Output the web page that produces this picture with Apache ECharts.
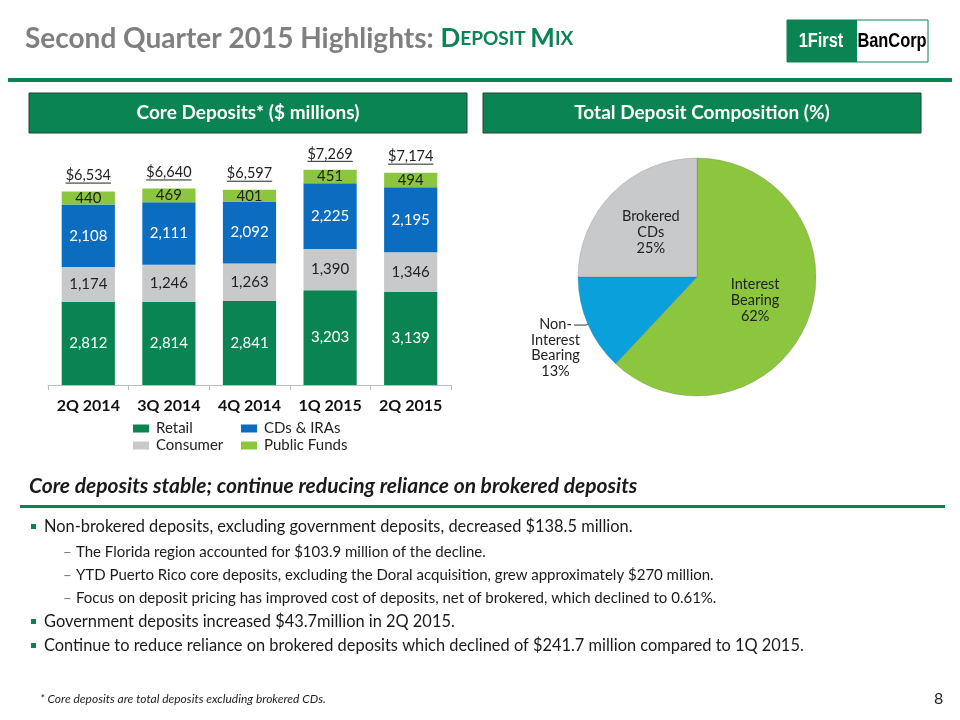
<!DOCTYPE html>
<html>
<head>
<meta charset="utf-8">
<script src="https://cdn.jsdelivr.net/npm/echarts@6/dist/echarts.min.js"></script>
<style>html,body{margin:0;padding:0;background:#fff;}#c{width:960px;height:720px;}</style>
</head>
<body>
<div id="c"></div>
<script>
const categories = ['2Q 2014', '3Q 2014', '4Q 2014', '1Q 2015', '2Q 2015'];
const retail = [2812, 2814, 2841, 3203, 3139];
const consumer = [1174, 1246, 1263, 1390, 1346];
const cdsIras = [2108, 2111, 2092, 2225, 2195];
const publicFunds = [440, 469, 401, 451, 494];
const totals = [6534, 6640, 6597, 7269, 7174];
const pieNames = ['Interest Bearing', 'Non-Interest Bearing', 'Brokered CDs'];
const pieValues = [62, 13, 25];

const FONT = 'Lato, "Open Sans", sans-serif';
const GREEN = '#0b8453';
const fmt = v => Number(v).toLocaleString('en-US');

const mctx = document.createElement('canvas').getContext('2d');
function textW(t, font) { mctx.font = font; return mctx.measureText(t).width; }

const chart = echarts.init(document.getElementById('c'), null, {renderer: 'canvas'});

function barSeries(name, data, color, labelColor) {
  return {
    name, type: 'bar', stack: 'core', data, barWidth: '66%',
    itemStyle: {color},
    label: {show: true, position: 'inside', color: labelColor, fontFamily: FONT, fontSize: 15,
      formatter: p => fmt(p.value)}
  };
}

function legendItem(name, left, top) {
  return {
    data: [name], left, top, padding: 0, itemWidth: 16, itemHeight: 8, itemGap: 8, icon: 'rect',
    selectedMode: false,
    textStyle: {fontSize: 15, color: '#222', fontFamily: FONT, padding: [0, 0, 0, 2]}
  };
}

const bullets = [
  {lvl: 0, y: 527, t: 'Non-brokered deposits, excluding government deposits, decreased $138.5 million.'},
  {lvl: 1, y: 552, t: 'The Florida region accounted for $103.9 million of the decline.'},
  {lvl: 1, y: 575, t: 'YTD Puerto Rico core deposits, excluding the Doral acquisition, grew approximately $270 million.'},
  {lvl: 1, y: 598, t: 'Focus on deposit pricing has improved cost of deposits, net of brokered, which declined to 0.61%.'},
  {lvl: 0, y: 622, t: 'Government deposits increased $43.7million in 2Q 2015.'},
  {lvl: 0, y: 646, t: 'Continue to reduce reliance on brokered deposits which declined of $241.7 million compared to 1Q 2015.'}
];

const LOGO_FONT = 'bold 20px "Liberation Sans", Arial, sans-serif';
const graphics = [
  {type: 'text', left: 25, top: 25, style: {
    text: '{g|Second Quarter 2015 Highlights: }{a|D}{b|EPOSIT }{a|M}{b|IX}',
    rich: {
      g: {fill: '#7f7f7f', font: 'bold 28px ' + FONT},
      a: {fill: GREEN, font: 'bold 26px ' + FONT},
      b: {fill: GREEN, font: 'bold 19px ' + FONT}
    }}},
  {type: 'rect', shape: {x: 8, y: 78, width: 944, height: 4}, style: {fill: GREEN}},
  // logo
  {type: 'rect', shape: {x: 787, y: 20, width: 141, height: 42}, style: {fill: '#fff', stroke: GREEN, lineWidth: 1}},
  {type: 'rect', shape: {x: 787, y: 20, width: 70, height: 42}, style: {fill: GREEN}},
  {type: 'text', x: 821, y: 41, scaleX: 0.82, style: {text: '1First', x: 0, y: 0, fill: '#fff', align: 'center', verticalAlign: 'middle', font: LOGO_FONT}},
  {type: 'text', x: 892, y: 41, scaleX: 0.82, style: {text: 'BanCorp', x: 0, y: 0, fill: '#000', align: 'center', verticalAlign: 'middle', font: LOGO_FONT}},
  // header boxes
  {type: 'rect', shape: {x: 29, y: 93, width: 438, height: 40}, style: {fill: GREEN, stroke: '#24402f', lineWidth: 1}},
  {type: 'text', x: 248, y: 113, style: {text: 'Core Deposits* ($ millions)', fill: '#fff', align: 'center', verticalAlign: 'middle', font: 'bold 19px ' + FONT}},
  {type: 'rect', shape: {x: 483, y: 93, width: 438, height: 40}, style: {fill: GREEN, stroke: '#24402f', lineWidth: 1}},
  {type: 'text', x: 702, y: 113, style: {text: 'Total Deposit Composition (%)', fill: '#fff', align: 'center', verticalAlign: 'middle', font: 'bold 19px ' + FONT}},
  // subheading
  {type: 'text', x: 29, y: 486, style: {text: 'Core deposits stable; continue reducing reliance on brokered deposits', fill: '#1a1a1a', verticalAlign: 'middle', font: 'italic bold 21px ' + FONT}},
  {type: 'rect', shape: {x: 20, y: 505, width: 925, height: 3}, style: {fill: GREEN}},
  // footnote
  {type: 'text', x: 40, y: 699, style: {text: '* Core deposits are total deposits excluding brokered CDs.', fill: '#222', verticalAlign: 'middle', font: 'italic 12px ' + FONT}},
  {type: 'text', x: 934, y: 699, style: {text: '8', fill: '#222', verticalAlign: 'middle', font: '16px ' + FONT}}
];
bullets.forEach(b => {
  if (b.lvl === 0) {
    graphics.push({type: 'rect', shape: {x: 31, y: b.y - 3, width: 5, height: 5}, style: {fill: GREEN}});
    graphics.push({type: 'text', x: 44, y: b.y, style: {text: b.t, fill: '#1a1a1a', verticalAlign: 'middle', font: '16.4px ' + FONT}});
  } else {
    graphics.push({type: 'text', x: 63, y: b.y, style: {text: '–', fill: '#777', verticalAlign: 'middle', font: '15px ' + FONT}});
    graphics.push({type: 'text', x: 76, y: b.y, style: {text: b.t, fill: '#1a1a1a', verticalAlign: 'middle', font: '15px ' + FONT}});
  }
});

const option = {
  animation: false,
  backgroundColor: '#fff',
  grid: {left: 48, top: 163, width: 403, height: 222, containLabel: false},
  xAxis: {
    type: 'category', data: categories,
    axisLine: {lineStyle: {color: '#bdbdbd'}},
    axisTick: {show: true, length: 5, lineStyle: {color: '#bdbdbd'}},
    axisLabel: {color: '#111', fontWeight: 'bold', fontSize: 16, fontFamily: FONT, margin: 13, interval: 0, hideOverlap: false}
  },
  yAxis: {type: 'value', min: 0, max: 7500, show: false, splitLine: {show: false}},
  legend: [
    legendItem('Retail', 133, 421),
    legendItem('CDs & IRAs', 241, 421),
    legendItem('Consumer', 133, 438),
    legendItem('Public Funds', 241, 438)
  ],
  series: [
    barSeries('Retail', retail, '#0b8453', '#fff'),
    barSeries('Consumer', consumer, '#c8c9cb', '#222'),
    barSeries('CDs & IRAs', cdsIras, '#0c6cc0', '#fff'),
    barSeries('Public Funds', publicFunds, '#8cc63f', '#222'),
    {
      name: 'Total', type: 'custom', data: totals.map((v, i) => [i, v]),
      encode: {x: 0, y: 1}, z: 10,
      renderItem: (params, api) => {
        const p = api.coord([api.value(0), api.value(1)]);
        const txt = '$' + fmt(api.value(1));
        const font = '14.5px ' + FONT;
        const w = textW(txt, font);
        return {type: 'group', children: [
          {type: 'text', style: {text: txt, x: p[0], y: p[1] - 16, align: 'center', verticalAlign: 'middle', font, fill: '#222'}},
          {type: 'line', shape: {x1: p[0] - w / 2, y1: p[1] - 8.5, x2: p[0] + w / 2, y2: p[1] - 8.5}, style: {stroke: '#222', lineWidth: 1}}
        ]};
      }
    },
    {
      name: 'Composition', type: 'pie', center: [697, 277], radius: 119, startAngle: 90, clockwise: true,
      itemStyle: {borderColor: 'rgba(80,80,80,0.35)', borderWidth: 0.6},
      label: {position: 'inside', color: '#222', fontFamily: FONT, fontSize: 14.5, lineHeight: 16},
      data: [
        {name: pieNames[0], value: pieValues[0], itemStyle: {color: '#8cc63f'},
          label: {formatter: 'Interest\nBearing\n{c}%', padding: [0, 0, 18, 0]}},
        {name: pieNames[1], value: pieValues[1], itemStyle: {color: '#0aa0dc'},
          label: {position: 'outside', distanceToLabelLine: -6, padding: [46, 0, 0, 0],
            formatter: '{c|Non-}\n{c|Interest}\n{c|Bearing}\n{c|13%}',
            rich: {c: {align: 'center', fontSize: 14.5, lineHeight: 15.5, color: '#222', fontFamily: FONT}}},
          labelLine: {show: true, length: 2, length2: 12, lineStyle: {color: '#333', width: 1}}},
        {name: pieNames[2], value: pieValues[2], itemStyle: {color: '#c8c9cb'},
          label: {formatter: 'Brokered\nCDs\n{c}%', padding: [0, 4, 0, 0]}}
      ]
    }
  ],
  graphic: graphics
};
chart.setOption(option);
</script>
</body>
</html>
